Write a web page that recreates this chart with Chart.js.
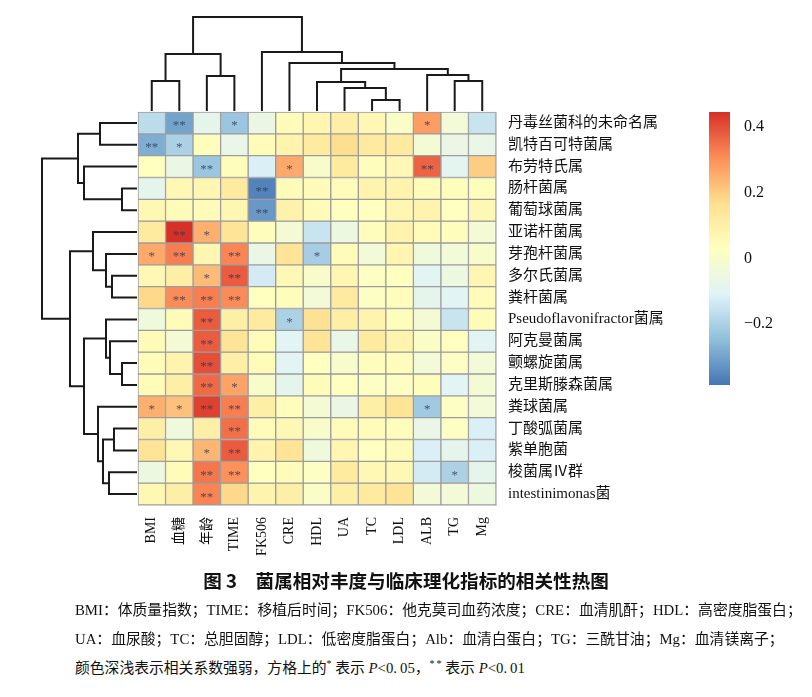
<!DOCTYPE html>
<html>
<head>
<meta charset="utf-8">
<script src="https://cdn.jsdelivr.net/npm/chart.js@4.4.1/dist/chart.umd.min.js"></script>
<style>
  body { margin: 0; background: #fff; width: 812px; height: 697px; overflow: hidden; position: relative; }
  canvas { position: absolute; }
  .cap { position: absolute; font-family: 'Liberation Serif', 'Noto Sans CJK SC', serif; color: #111; white-space: nowrap; }
  #title { top: 566px; left: 0; width: 812px; text-align: center; font-size: 18.6px; font-weight: bold; font-family: 'Noto Sans CJK SC', sans-serif; }
  .line { left: 75px; font-size: 14.8px; }
  sup { font-size: 10px; vertical-align: 6px; }
</style>
</head>
<body>
<canvas id="topTree" width="398" height="121" style="left:118px;top:0px;width:398px;height:121px"></canvas>
<canvas id="leftTree" width="126" height="433" style="left:22px;top:92px;width:126px;height:433px"></canvas>
<canvas id="heat" width="600" height="480" style="left:118px;top:92px;width:600px;height:480px"></canvas>
<canvas id="scaleBar" width="123" height="313" style="left:689px;top:92px;width:123px;height:313px"></canvas>

<div id="title" class="cap">图 3　菌属相对丰度与临床理化指标的相关性热图</div>
<div class="cap line" style="top:598px">BMI：体质量指数；TIME：移植后时间；FK506：他克莫司血药浓度；CRE：血清肌酐；HDL：高密度脂蛋白；</div>
<div class="cap line" style="top:627px">UA：血尿酸；TC：总胆固醇；LDL：低密度脂蛋白；Alb：血清白蛋白；TG：三酰甘油；Mg：血清镁离子；</div>
<div class="cap line" style="top:656px">颜色深浅表示相关系数强弱，方格上的<sup>*</sup>&nbsp;表示&nbsp;<i>P</i>&lt;0.&thinsp;05，<sup>*&thinsp;*</sup>&nbsp;表示&nbsp;<i>P</i>&lt;0.&thinsp;01</div>

<script>
const colLabels = ['BMI', '血糖', '年龄', 'TIME', 'FK506', 'CRE', 'HDL', 'UA', 'TC', 'LDL', 'ALB', 'TG', 'Mg'];
const rowLabels = ['丹毒丝菌科的未命名属', '凯特百可特菌属', '布劳特氏属', '肠杆菌属', '葡萄球菌属',
    '亚诺杆菌属', '芽孢杆菌属', '多尔氏菌属', '粪杆菌属', 'Pseudoflavonifractor菌属', '阿克曼菌属',
    '颤螺旋菌属', '克里斯滕森菌属', '粪球菌属', '丁酸弧菌属', '紫单胞菌', '梭菌属Ⅳ群', 'intestinimonas菌'];

// correlation per row, columns in colLabels order
const corr = [
    [-0.17, -0.30, -0.08, -0.23, -0.06, 0.05, 0.07, 0.10, 0.06, 0.01, 0.28, -0.03, -0.15],
    [-0.28, -0.20, 0.04, -0.07, 0.05, 0.08, 0.12, 0.17, 0.12, 0.12, -0.02, -0.06, -0.07],
    [0.03, -0.06, -0.23, 0.04, -0.12, 0.26, 0.00, 0.12, 0.04, 0.06, 0.37, -0.09, 0.20],
    [-0.08, 0.06, 0.07, 0.12, -0.36, 0.05, 0.05, 0.05, 0.08, 0.08, 0.05, 0.04, 0.04],
    [0.06, 0.05, 0.05, 0.07, -0.32, 0.09, 0.05, 0.03, 0.03, 0.07, 0.08, 0.03, 0.06],
    [0.12, 0.45, 0.25, 0.15, 0.04, -0.02, -0.15, -0.05, 0.04, 0.08, 0.05, 0.04, -0.02],
    [0.26, 0.33, 0.07, 0.32, -0.06, 0.15, -0.21, 0.05, -0.03, 0.07, -0.04, -0.03, 0.00],
    [0.06, 0.10, 0.23, 0.38, -0.13, 0.06, 0.00, 0.07, 0.02, 0.03, -0.10, -0.05, 0.07],
    [0.18, 0.31, 0.33, 0.31, 0.03, 0.04, -0.03, 0.12, 0.02, 0.04, -0.08, -0.10, 0.05],
    [-0.04, 0.05, 0.38, 0.10, 0.12, -0.20, 0.16, 0.10, 0.08, 0.04, -0.02, -0.15, 0.05],
    [0.05, -0.02, 0.38, 0.15, 0.05, -0.10, 0.15, -0.07, 0.12, 0.08, 0.01, 0.03, -0.10],
    [0.05, 0.08, 0.40, 0.10, 0.05, -0.10, 0.03, 0.00, 0.04, 0.04, -0.03, 0.02, -0.03],
    [0.05, 0.10, 0.36, 0.27, 0.00, -0.08, 0.05, 0.03, 0.02, 0.02, 0.04, -0.10, -0.02],
    [0.25, 0.22, 0.42, 0.33, 0.10, 0.04, -0.02, -0.06, 0.10, 0.15, -0.22, 0.02, -0.03],
    [0.10, -0.04, 0.10, 0.35, 0.05, 0.06, 0.00, 0.05, 0.05, 0.04, -0.07, 0.02, -0.12],
    [0.15, 0.06, 0.24, 0.38, 0.08, 0.15, -0.04, 0.07, 0.03, 0.05, -0.12, -0.08, -0.12],
    [-0.05, 0.05, 0.34, 0.30, 0.03, 0.05, 0.02, 0.12, 0.06, 0.06, -0.13, -0.20, -0.08],
    [0.06, 0.10, 0.32, 0.18, 0.08, 0.10, 0.01, 0.10, 0.12, 0.15, -0.03, -0.03, -0.05],
];

// [row, col, mark]
const sigCells = [
    [0, 1, '**'], [0, 3, '*'], [0, 10, '*'],
    [1, 0, '**'], [1, 1, '*'],
    [2, 2, '**'], [2, 5, '*'], [2, 10, '**'],
    [3, 4, '**'], [4, 4, '**'],
    [5, 1, '**'], [5, 2, '*'],
    [6, 0, '*'], [6, 1, '**'], [6, 3, '**'], [6, 6, '*'],
    [7, 2, '*'], [7, 3, '**'],
    [8, 1, '**'], [8, 2, '**'], [8, 3, '**'],
    [9, 2, '**'], [9, 5, '*'],
    [10, 2, '**'], [11, 2, '**'],
    [12, 2, '**'], [12, 3, '*'],
    [13, 0, '*'], [13, 1, '*'], [13, 2, '**'], [13, 3, '**'], [13, 10, '*'],
    [14, 3, '**'],
    [15, 2, '*'], [15, 3, '**'],
    [16, 2, '**'], [16, 3, '**'], [16, 11, '*'],
    [17, 2, '**'],
];

// dendrograms, hclust style merges: negative = leaf (1-based), positive = earlier merge
const colMerges = [
    [-1, -2, 30], [-3, -4, 35], [1, 2, 57], [-9, -10, 11], [-8, 4, 23], [-7, 5, 29],
    [-12, -13, 30], [-11, 7, 36], [6, 8, 42], [-6, 9, 48], [-5, 10, 59], [3, 11, 94],
];
const rowMerges = [
    [-1, -2, 37], [-4, -5, 15], [-3, 2, 53], [1, 3, 59], [-8, -9, 25], [-7, 5, 31],
    [-6, 6, 44], [-12, -13, 15], [-11, 8, 27], [-10, 9, 31], [-15, -16, 23], [-17, -18, 28],
    [11, 12, 34], [-14, 13, 39], [10, 14, 53], [7, 15, 67], [4, 16, 95],
];

const scaleMin = -0.386;
const scaleMax = 0.446;
const scaleTicks = [-0.2, 0, 0.2, 0.4];
const palette = ['#4575B4', '#91BFDB', '#E0F3F8', '#FFFFBF', '#FEE090', '#FC8D59', '#D73027'];

const latinFont = "'Liberation Serif', 'Noto Sans CJK SC', serif";

function hexRgb(h) {
    return [1, 3, 5].map(i => parseInt(h.substr(i, 2), 16));
}

function colorFor(v) {
    let t = (v - scaleMin) / (scaleMax - scaleMin) * (palette.length - 1);
    t = Math.max(0, Math.min(palette.length - 1, t));
    const i = Math.min(Math.floor(t), palette.length - 2);
    const f = t - i;
    const a = hexRgb(palette[i]), b = hexRgb(palette[i + 1]);
    const c = a.map((x, k) => Math.round(x + (b[k] - x) * f));
    return `rgb(${c[0]},${c[1]},${c[2]})`;
}

function treeSegments(merges) {
    const pos = [], hgt = [];
    const node = k => k < 0 ? {p: -k - 1 + 0.5, h: 0} : {p: pos[k - 1], h: hgt[k - 1]};
    return merges.map(([a, b, h]) => {
        const A = node(a), B = node(b);
        pos.push((A.p + B.p) / 2);
        hgt.push(h);
        return [[A.p, A.h], [A.p, h], [B.p, h], [B.p, B.h]];
    });
}

Chart.defaults.animation = false;
Chart.defaults.plugins.legend.display = false;
Chart.defaults.plugins.tooltip.enabled = false;

// top dendrogram
new Chart(document.getElementById('topTree'), {
    type: 'scatter',
    data: {
        datasets: treeSegments(colMerges).map(seg => ({
            data: seg.map(([p, h]) => ({x: p, y: h})),
            showLine: true, borderColor: '#1a1a1a', borderWidth: 2, pointRadius: 0, clip: false,
        })),
    },
    options: {
        responsive: false,
        layout: {padding: {left: 20, right: 20, top: 17, bottom: 10}},
        scales: {
            x: {type: 'linear', min: 0, max: colLabels.length, display: false},
            y: {type: 'linear', min: 0, max: 94, display: false},
        },
    },
});

// left dendrogram
new Chart(document.getElementById('leftTree'), {
    type: 'scatter',
    data: {
        datasets: treeSegments(rowMerges).map(seg => ({
            data: seg.map(([p, h]) => ({x: h, y: p})),
            showLine: true, borderColor: '#1a1a1a', borderWidth: 2, pointRadius: 0, clip: false,
        })),
    },
    options: {
        responsive: false,
        layout: {padding: {left: 20, right: 11, top: 20, bottom: 20}},
        scales: {
            x: {type: 'linear', min: 0, max: 95, reverse: true, display: false},
            y: {type: 'linear', min: 0, max: rowLabels.length, reverse: true, display: false},
        },
    },
});

// heatmap cells as floating bars, one dataset per row
const starPlugin = {
    id: 'stars',
    afterDatasetsDraw(chart) {
        const {ctx, scales} = chart;
        ctx.save();
        ctx.font = "13px 'Liberation Serif', serif";
        ctx.fillStyle = 'rgba(45,55,80,0.8)';
        ctx.textAlign = 'center';
        ctx.textBaseline = 'middle';
        for (const [r, c, m] of sigCells) {
            ctx.fillText(m, scales.x.getPixelForValue(c), scales.y.getPixelForValue(r + 0.5) + 3);
        }
        ctx.restore();
    },
};

new Chart(document.getElementById('heat'), {
    type: 'bar',
    data: {
        labels: colLabels,
        datasets: corr.map((row, r) => ({
            data: row.map(() => [r, r + 1]),
            backgroundColor: row.map(colorFor),
            borderColor: '#9c9c9c',
            borderWidth: 1,
            borderSkipped: false,
            grouped: false,
            barPercentage: 1,
            categoryPercentage: 1,
            clip: false,
        })),
    },
    options: {
        responsive: false,
        layout: {padding: {left: 20, top: 20, right: 0, bottom: 0}},
        scales: {
            x: {
                grid: {display: false},
                border: {display: true, color: '#d0d0d0'},
                ticks: {
                    color: '#111', font: {family: latinFont, size: 14},
                    maxRotation: 90, minRotation: 90, autoSkip: false, padding: 4,
                },
                afterFit: s => { s.height = 67; },
            },
            y: {
                type: 'linear', min: 0, max: rowLabels.length, reverse: true, position: 'right',
                grid: {display: false},
                border: {display: true, color: '#d0d0d0'},
                afterBuildTicks: s => { s.ticks = rowLabels.map((_, i) => ({value: i + 0.5})); },
                ticks: {
                    color: '#111', font: {family: latinFont, size: 15}, autoSkip: false, padding: 4,
                    callback: v => rowLabels[Math.floor(v)],
                },
                afterFit: s => { s.width = 222; },
            },
        },
    },
    plugins: [starPlugin],
});

// colour key
new Chart(document.getElementById('scaleBar'), {
    type: 'bar',
    data: {
        labels: [''],
        datasets: [{
            data: [[scaleMin, scaleMax]],
            borderWidth: 0,
            barPercentage: 1,
            categoryPercentage: 1,
            backgroundColor: c => {
                const {chart} = c;
                if (!chart.chartArea) return palette[3];
                const y = chart.scales.y;
                const g = chart.ctx.createLinearGradient(0, y.getPixelForValue(scaleMin), 0, y.getPixelForValue(scaleMax));
                palette.forEach((p, i) => g.addColorStop(i / (palette.length - 1), p));
                return g;
            },
        }],
    },
    options: {
        responsive: false,
        layout: {padding: {left: 20, top: 20, bottom: 20, right: 0}},
        scales: {
            x: {display: false},
            y: {
                position: 'right', min: scaleMin, max: scaleMax,
                grid: {display: false}, border: {display: false},
                afterBuildTicks: s => { s.ticks = scaleTicks.map(v => ({value: v})); },
                ticks: {
                    color: '#111', font: {family: latinFont, size: 16}, padding: 6,
                    callback: v => v === 0 ? '0' : v.toFixed(1).replace('-', '−'),
                },
                afterFit: s => { s.width = 82; },
            },
        },
    },
});
</script>
</body>
</html>
